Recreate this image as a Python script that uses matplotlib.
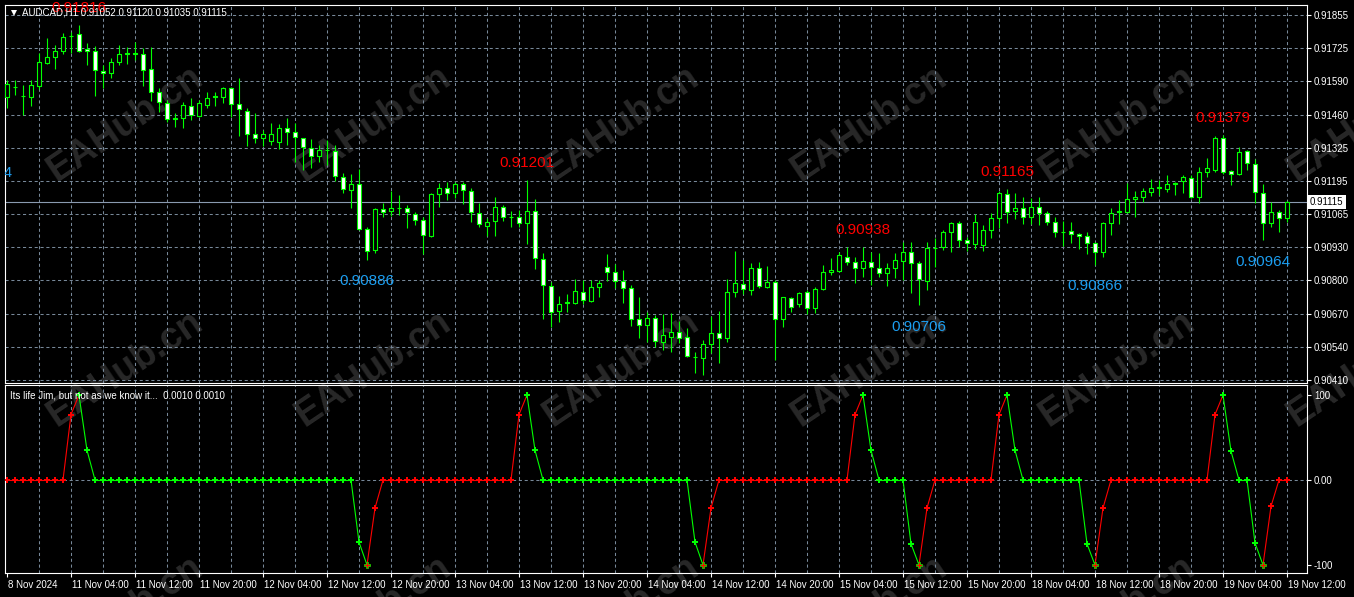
import matplotlib
matplotlib.use("Agg")
import matplotlib.pyplot as plt
import numpy as np
from matplotlib.patches import Rectangle
from matplotlib.collections import LineCollection, PatchCollection
from matplotlib.transforms import Bbox, TransformedBbox, blended_transform_factory, ScaledTranslation

plt.rcParams['font.family'] = ['Liberation Sans', 'DejaVu Sans']

# ---------------- data ----------------
symbol = "AUDCAD,H1"

opens = [0.91531, 0.91569, 0.91535, 0.91531, 0.91575, 0.91666, 0.91690, 0.91714, 0.91771, 0.91779,
         0.91720, 0.91714, 0.91634, 0.91624, 0.91668, 0.91699, 0.91702, 0.91699, 0.91640, 0.91551,
         0.91505, 0.91446, 0.91446, 0.91496, 0.91456, 0.91499, 0.91530, 0.91531, 0.91565, 0.91501,
         0.91476, 0.91383, 0.91367, 0.91356, 0.91351, 0.91406, 0.91390, 0.91367, 0.91330, 0.91297,
         0.91320, 0.91318, 0.91215, 0.91162, 0.91185, 0.91006, 0.90924, 0.91086, 0.91079, 0.91090,
         0.91092, 0.91066, 0.91043, 0.90981, 0.91145, 0.91169, 0.91149, 0.91186, 0.91159, 0.91070,
         0.91021, 0.91039, 0.91093, 0.91056, 0.91056, 0.91030, 0.91080, 0.90888, 0.90782, 0.90684,
         0.90716, 0.90716, 0.90759, 0.90724, 0.90779, 0.90856, 0.90838, 0.90803, 0.90775, 0.90650,
         0.90627, 0.90654, 0.90561, 0.90581, 0.90601, 0.90581, 0.90503, 0.90498, 0.90551, 0.90598,
         0.90575, 0.90757, 0.90789, 0.90766, 0.90852, 0.90777, 0.90799, 0.90650, 0.90735, 0.90709,
         0.90757, 0.90694, 0.90769, 0.90836, 0.90842, 0.90898, 0.90876, 0.90852, 0.90878, 0.90852,
         0.90832, 0.90852, 0.90881, 0.90918, 0.90874, 0.90803, 0.90931, 0.90935, 0.90994, 0.91030,
         0.90964, 0.90948, 0.90944, 0.91004, 0.91050, 0.91145, 0.91079, 0.91090, 0.91054, 0.91093,
         0.91070, 0.91034, 0.90995, 0.91001, 0.90987, 0.90980, 0.90951, 0.90918, 0.91030, 0.91074,
         0.91076, 0.91125, 0.91135, 0.91155, 0.91172, 0.91166, 0.91185, 0.91198, 0.91210, 0.91135,
         0.91232, 0.91241, 0.91367, 0.91237, 0.91225, 0.91317, 0.91264, 0.91149, 0.91030, 0.91074,
         0.91052]
highs = [0.91598, 0.91598, 0.91578, 0.91598, 0.91706, 0.91765, 0.91736, 0.91783, 0.91789, 0.91816,
         0.91743, 0.91733, 0.91657, 0.91684, 0.91736, 0.91727, 0.91747, 0.91723, 0.91730, 0.91565,
         0.91518, 0.91466, 0.91512, 0.91525, 0.91518, 0.91549, 0.91549, 0.91571, 0.91571, 0.91604,
         0.91488, 0.91466, 0.91400, 0.91426, 0.91422, 0.91448, 0.91426, 0.91369, 0.91364, 0.91340,
         0.91360, 0.91340, 0.91228, 0.91225, 0.91244, 0.91017, 0.91090, 0.91112, 0.91159, 0.91142,
         0.91103, 0.91076, 0.91054, 0.91149, 0.91191, 0.91195, 0.91195, 0.91195, 0.91169, 0.91109,
         0.91050, 0.91133, 0.91103, 0.91080, 0.91083, 0.91201, 0.91126, 0.90911, 0.90799, 0.90742,
         0.90750, 0.90808, 0.90806, 0.90806, 0.90806, 0.90909, 0.90868, 0.90845, 0.90786, 0.90740,
         0.90680, 0.90667, 0.90671, 0.90674, 0.90644, 0.90614, 0.90522, 0.90568, 0.90663, 0.90683,
         0.90808, 0.90920, 0.90885, 0.90874, 0.90878, 0.90861, 0.90806, 0.90740, 0.90740, 0.90759,
         0.90766, 0.90779, 0.90865, 0.90892, 0.90918, 0.90937, 0.90898, 0.90938, 0.90915, 0.90914,
         0.90872, 0.90914, 0.90957, 0.90957, 0.90881, 0.90957, 0.90971, 0.91004, 0.91036, 0.91040,
         0.90977, 0.91067, 0.91023, 0.91070, 0.91160, 0.91165, 0.91149, 0.91135, 0.91129, 0.91133,
         0.91080, 0.91056, 0.91040, 0.91036, 0.90991, 0.90997, 0.90957, 0.91036, 0.91090, 0.91122,
         0.91191, 0.91159, 0.91169, 0.91204, 0.91202, 0.91221, 0.91195, 0.91221, 0.91221, 0.91254,
         0.91288, 0.91376, 0.91379, 0.91240, 0.91333, 0.91320, 0.91284, 0.91186, 0.91116, 0.91083,
         0.91120]
lows = [0.91488, 0.91538, 0.91459, 0.91496, 0.91562, 0.91660, 0.91640, 0.91699, 0.91703, 0.91710,
        0.91657, 0.91535, 0.91565, 0.91604, 0.91657, 0.91660, 0.91677, 0.91575, 0.91514, 0.91470,
        0.91430, 0.91413, 0.91409, 0.91439, 0.91452, 0.91488, 0.91496, 0.91505, 0.91452, 0.91377,
        0.91337, 0.91347, 0.91337, 0.91340, 0.91323, 0.91340, 0.91272, 0.91241, 0.91250, 0.91274,
        0.91261, 0.91199, 0.91149, 0.91090, 0.91004, 0.90886, 0.90911, 0.91054, 0.91059, 0.91063,
        0.91013, 0.91023, 0.90907, 0.90977, 0.91093, 0.91122, 0.91129, 0.91107, 0.91036, 0.91017,
        0.90980, 0.90980, 0.91040, 0.91017, 0.91017, 0.90947, 0.90848, 0.90650, 0.90621, 0.90640,
        0.90680, 0.90711, 0.90711, 0.90720, 0.90740, 0.90803, 0.90773, 0.90716, 0.90623, 0.90575,
        0.90561, 0.90541, 0.90528, 0.90522, 0.90555, 0.90500, 0.90436, 0.90429, 0.90518, 0.90478,
        0.90561, 0.90740, 0.90750, 0.90746, 0.90773, 0.90773, 0.90489, 0.90621, 0.90680, 0.90700,
        0.90670, 0.90674, 0.90766, 0.90825, 0.90838, 0.90865, 0.90793, 0.90819, 0.90786, 0.90819,
        0.90782, 0.90812, 0.90806, 0.90755, 0.90706, 0.90766, 0.90858, 0.90924, 0.90918, 0.90937,
        0.90922, 0.90927, 0.90922, 0.90971, 0.91010, 0.91033, 0.91046, 0.91027, 0.91027, 0.91023,
        0.91023, 0.90975, 0.90940, 0.90953, 0.90927, 0.90909, 0.90866, 0.90898, 0.90984, 0.91027,
        0.91072, 0.91056, 0.91113, 0.91138, 0.91142, 0.91155, 0.91142, 0.91149, 0.91129, 0.91109,
        0.91215, 0.91234, 0.91225, 0.91182, 0.91221, 0.91241, 0.91109, 0.90964, 0.91017, 0.90997,
        0.91035]
closes = [0.91581, 0.91571, 0.91533, 0.91578, 0.91668, 0.91687, 0.91712, 0.91769, 0.91773, 0.91712,
          0.91712, 0.91637, 0.91624, 0.91668, 0.91699, 0.91703, 0.91704, 0.91637, 0.91549, 0.91509,
          0.91443, 0.91443, 0.91499, 0.91459, 0.91505, 0.91528, 0.91533, 0.91565, 0.91501, 0.91482,
          0.91383, 0.91367, 0.91383, 0.91383, 0.91409, 0.91390, 0.91371, 0.91331, 0.91297, 0.91320,
          0.91321, 0.91217, 0.91165, 0.91185, 0.91006, 0.90920, 0.91086, 0.91075, 0.91090, 0.91091,
          0.91075, 0.91043, 0.90984, 0.91145, 0.91169, 0.91149, 0.91186, 0.91162, 0.91074, 0.91026,
          0.91034, 0.91096, 0.91054, 0.91057, 0.91030, 0.91080, 0.90892, 0.90786, 0.90680, 0.90711,
          0.90717, 0.90763, 0.90726, 0.90777, 0.90793, 0.90838, 0.90803, 0.90773, 0.90650, 0.90627,
          0.90654, 0.90565, 0.90588, 0.90601, 0.90578, 0.90506, 0.90502, 0.90551, 0.90598, 0.90575,
          0.90757, 0.90793, 0.90769, 0.90854, 0.90782, 0.90796, 0.90650, 0.90737, 0.90700, 0.90753,
          0.90694, 0.90769, 0.90836, 0.90845, 0.90905, 0.90876, 0.90852, 0.90882, 0.90856, 0.90832,
          0.90852, 0.90885, 0.90918, 0.90872, 0.90810, 0.90931, 0.90932, 0.90994, 0.91030, 0.90964,
          0.90951, 0.91036, 0.91004, 0.91052, 0.91149, 0.91074, 0.91090, 0.91054, 0.91096, 0.91070,
          0.91034, 0.90994, 0.90994, 0.90987, 0.90980, 0.90951, 0.90915, 0.91030, 0.91072, 0.91079,
          0.91125, 0.91135, 0.91158, 0.91171, 0.91173, 0.91185, 0.91189, 0.91212, 0.91135, 0.91232,
          0.91248, 0.91367, 0.91234, 0.91225, 0.91314, 0.91268, 0.91153, 0.91030, 0.91074, 0.91050,
          0.91115]

indicator = [0, 0, 0, 0, 0, 0, 0, 0, 77, 100,
             35, 0, 0, 0, 0, 0, 0, 0, 0, 0,
             0, 0, 0, 0, 0, 0, 0, 0, 0, 0,
             0, 0, 0, 0, 0, 0, 0, 0, 0, 0,
             0, 0, 0, 0, -73, -100, -33, 0, 0, 0,
             0, 0, 0, 0, 0, 0, 0, 0, 0, 0,
             0, 0, 0, 0, 77, 100, 35, 0, 0, 0,
             0, 0, 0, 0, 0, 0, 0, 0, 0, 0,
             0, 0, 0, 0, 0, 0, -73, -100, -33, 0,
             0, 0, 0, 0, 0, 0, 0, 0, 0, 0,
             0, 0, 0, 0, 0, 0, 77, 100, 35, 0,
             0, 0, 0, -75, -100, -33, 0, 0, 0, 0,
             0, 0, 0, 0, 77, 100, 35, 0, 0, 0,
             0, 0, 0, 0, 0, -75, -100, -33, 0, 0,
             0, 0, 0, 0, 0, 0, 0, 0, 0, 0,
             0, 77, 100, 34, 0, 0, -74, -100, -31, 0,
             0]

time_label_idx = [0, 8, 16, 24, 32, 40, 48, 56, 64, 72, 80, 88, 96, 104, 112, 120, 128, 136, 144, 152, 160]
time_labels = ["8 Nov 2024", "11 Nov 04:00", "11 Nov 12:00", "11 Nov 20:00", "12 Nov 04:00",
               "12 Nov 12:00", "12 Nov 20:00", "13 Nov 04:00", "13 Nov 12:00", "13 Nov 20:00",
               "14 Nov 04:00", "14 Nov 12:00", "14 Nov 20:00", "15 Nov 04:00", "15 Nov 12:00",
               "15 Nov 20:00", "18 Nov 04:00", "18 Nov 12:00", "18 Nov 20:00", "19 Nov 04:00",
               "19 Nov 12:00"]
price_labels = ["0.91855", "0.91725", "0.91590", "0.91460", "0.91325", "0.91195",
                "0.91065", "0.90930", "0.90800", "0.90670", "0.90540", "0.90410"]
ind_tick_vals = [100, 0, -100]
ind_tick_labels = ["100", "0.00", "-100"]

peak_idx = [9, 65, 107, 125, 152]
peak_price = [0.91816, 0.91201, 0.90938, 0.91165, 0.91379]
trough_idx = [-2.75, 45, 87, 114, 136, 157]
trough_price = [0.91314, 0.90886, 0.90429, 0.90706, 0.90866, 0.90964]

current_price = 0.91115
ind_title = "Its life Jim, but not as we know it...  0.0010 0.0010"
watermark = "EAHub.cn"

# ---------------- figure ----------------
W, H = 1354, 597
fig = plt.figure(figsize=(W / 100, H / 100), dpi=100, facecolor='black')


def px_rect(x0, y0, x1, y1):
    return [x0 / W, 1 - y1 / H, (x1 - x0) / W, (y1 - y0) / H]


ax = fig.add_axes(px_rect(5, 5, 1307, 383))
ax2 = fig.add_axes(px_rect(5, 385, 1307, 573), sharex=ax)
for a in (ax, ax2):
    a.set_facecolor('none')
    for s in a.spines.values():
        s.set_color('white')
        s.set_linewidth(0.8)

GREEN = '#00ff00'
GRID = '#778899'
GRID_LS = (0, (3, 2.6))
TXT = 'white'

# watermark
wm_x = [125, 373, 621, 869, 1117, 1365]
wm_y = [124, 369, 614]
for yy in wm_y:
    for xx in wm_x:
        fig.text(xx / W, 1 - yy / H, watermark, rotation=34, rotation_mode='anchor',
                 ha='center', va='center', fontsize=27, fontweight='bold',
                 color='#282828', zorder=-5, family='Liberation Sans')

n = len(opens)
xi = np.arange(n)
o = np.array(opens); hi = np.array(highs); lo = np.array(lows); c = np.array(closes)

# main limits
p_top = float(price_labels[0]); p_bot = float(price_labels[-1])
ppx = (p_top - p_bot) / 365.0
ax.set_ylim(p_bot - 3 * ppx, p_top + 10 * ppx)
ax.set_xlim(-0.25, 162.5)
tick_pos = np.linspace(p_top, p_bot, len(price_labels))

# grid
grid_x = np.arange(4, n, 4)
for a in (ax, ax2):
    a.vlines(grid_x, 0, 1, transform=a.get_xaxis_transform(), colors=GRID,
             linestyles=GRID_LS, linewidths=0.75, zorder=1)
ax.hlines(tick_pos, 0, 1, transform=ax.get_yaxis_transform(), colors=GRID,
          linestyles=GRID_LS, linewidths=0.75, zorder=1)
ax2.hlines([0], 0, 1, transform=ax2.get_yaxis_transform(), colors=GRID,
           linestyles=GRID_LS, linewidths=0.75, zorder=1)

# current price line
ax.axhline(current_price, color='#8a9ab0', lw=0.8, zorder=2)

# candles
wicks = LineCollection([[(i, lo[i]), (i, hi[i])] for i in xi], colors=GREEN,
                       linewidths=0.8, zorder=3)
ax.add_collection(wicks)
bw = 0.56
rects, fcs = [], []
for i in xi:
    bot = min(o[i], c[i])
    ht = abs(c[i] - o[i])
    rects.append(Rectangle((i - bw / 2, bot), bw, ht))
    fcs.append('white' if c[i] < o[i] else 'black')
pc = PatchCollection(rects, facecolors=fcs, edgecolors=GREEN, linewidths=0.8, zorder=4)
ax.add_collection(pc)

# peak / trough labels
clipbox = TransformedBbox(Bbox([[0, 1 - 383 / H], [1, 1]]),
                          blended_transform_factory(ax.transAxes, fig.transFigure))
for i, p in zip(peak_idx, peak_price):
    t = ax.annotate(f"{p:.5f}", (i, p), xytext=(0, 12.3), textcoords='offset points',
                    ha='center', va='center', fontsize=11, color='#ff0000',
                    annotation_clip=False, zorder=6)
    t.set_clip_on(True); t.set_clip_box(clipbox)
for i, p in zip(trough_idx, trough_price):
    t = ax.annotate(f"{p:.5f}", (i, p), xytext=(0, -15.5), textcoords='offset points',
                    ha='center', va='center', fontsize=11, color='#1c9ef0',
                    annotation_clip=False, zorder=6)
    t.set_clip_on(True); t.set_clip_box(clipbox)

# axis ticks
ax.yaxis.tick_right()
ax.set_yticks(tick_pos)
ax.set_yticklabels(price_labels)
ax.tick_params(axis='y', colors=TXT, labelsize=7, length=3, width=0.8, pad=2)
ax.tick_params(axis='x', bottom=False, labelbottom=False)

# price tag
ax.text(1.0022, current_price, f"{current_price:.5f}",
        transform=blended_transform_factory(ax.transAxes, ax.transData),
        ha='left', va='center', fontsize=7, color='black', zorder=7, clip_on=False,
        bbox=dict(boxstyle='square,pad=0.22', fc='white', ec='white', lw=0))

# title
ax.plot([8.5 / 1302], [1 - 8 / 378], marker='v', ms=4.2, color='white', mew=0,
        transform=ax.transAxes, clip_on=False, zorder=8)
ax.text(17 / 1302, 1 - 7.5 / 378,
        f"{symbol} {o[-1]:.5f} {hi[-1]:.5f} {lo[-1]:.5f} {c[-1]:.5f}",
        transform=ax.transAxes, ha='left', va='center', fontsize=7, color=TXT, zorder=8)

# indicator
ax2.set_ylim(-93 / 0.85, 95 / 0.85)
ind = np.array(indicator, dtype=float)
state = []
cur = 'r'
for v in ind:
    if v >= 100:
        cur = 'g'
    elif v <= -100:
        cur = 'r'
    state.append(cur)
cmap = {'r': '#ff0000', 'g': GREEN}
segs = [[(i, ind[i]), (i + 1, ind[i + 1])] for i in range(n - 1)]
segc = [cmap[state[i]] for i in range(n - 1)]
ax2.add_collection(LineCollection(segs, colors=segc, linewidths=0.8, zorder=3))
for i in range(n):
    ec = GREEN if ind[i] <= -100 else cmap[state[i]]
    ax2.plot([i], [ind[i]], marker='P', ms=4.3, mfc=cmap[state[i]], mec=ec,
             mew=0.5 if ind[i] <= -100 else 0, zorder=4, linestyle='none')

ax2.yaxis.tick_right()
ax2.set_yticks(ind_tick_vals)
ax2.set_yticklabels(ind_tick_labels)
ax2.tick_params(axis='y', colors=TXT, labelsize=7, length=3, width=0.8, pad=2)
ax2.set_xticks(time_label_idx)
ax2.set_xticklabels(time_labels)
ax2.tick_params(axis='x', colors=TXT, labelsize=7, length=3, width=0.8, pad=2, direction='out')
off = ScaledTranslation(1.5 / 100, 0, fig.dpi_scale_trans)
for lab in ax2.get_xticklabels():
    lab.set_horizontalalignment('left')
    lab.set_transform(lab.get_transform() + off)

ax2.text(5 / 1302, 1 - 10 / 188, ind_title, transform=ax2.transAxes,
         ha='left', va='center', fontsize=7, color=TXT, zorder=8)

fig.savefig('out.png', dpi=100, facecolor='black')
